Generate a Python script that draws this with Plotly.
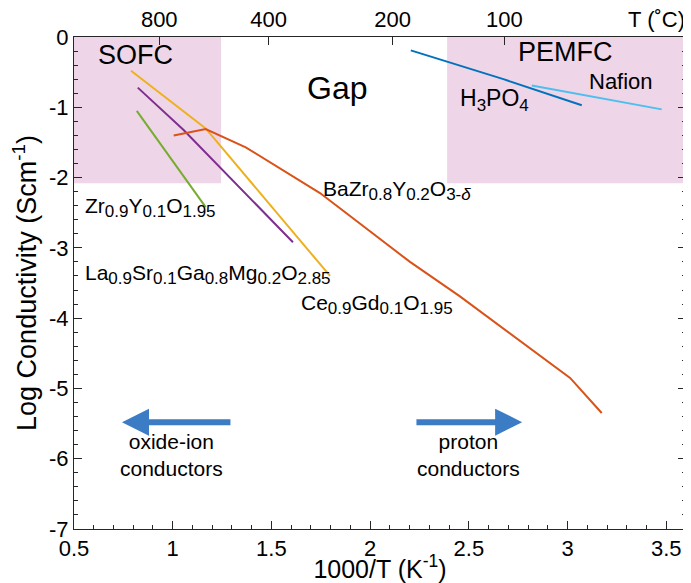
import plotly.graph_objects as go

# ---- data ----
zr_x = [0.818, 1.167]
zr_y = [-1.05, -2.42]
la_x = [0.823, 1.054, 1.609]
la_y = [-0.72, -1.32, -2.92]
ce_x = [0.789, 1.167, 1.797]
ce_y = [-0.48, -1.30, -3.40]
bz_x = [1.005, 1.167, 1.37, 1.746, 1.89, 2.202, 2.455, 3.013, 3.173]
bz_y = [-1.40, -1.31, -1.57, -2.22, -2.53, -3.20, -3.69, -4.85, -5.35]
h3_x = [2.206, 2.675, 3.072]
h3_y = [-0.19, -0.60, -0.97]
na_x = [2.819, 3.477]
na_y = [-0.69, -1.03]

top_T = [800, 400, 200, 100]
top_pos = [1000.0 / (t + 273.15) for t in top_T]
xt = [0.5, 1, 1.5, 2, 2.5, 3, 3.5]
yt = [0, -1, -2, -3, -4, -5, -6, -7]

colors = dict(zr="#77AC30", la="#7E2F8E", ce="#EDB120", bz="#D95319",
              h3="#0072BD", na="#4DBEEE")
FONT = "Liberation Sans, Arial, Helvetica, sans-serif"
pink = "rgb(238,214,232)"
arrow_col = "#3B7CC4"
SUB = 17

def sub(s):
    return "<sub><span style='font-size:%dpx'>%s</span></sub>" % (SUB, s)

fig = go.Figure()
for key, xs, ys in [("zr", zr_x, zr_y), ("la", la_x, la_y), ("ce", ce_x, ce_y),
                    ("bz", bz_x, bz_y), ("h3", h3_x, h3_y), ("na", na_x, na_y)]:
    fig.add_trace(go.Scatter(x=xs, y=ys, mode="lines",
                             line=dict(color=colors[key], width=2),
                             showlegend=False, hoverinfo="skip"))

fig.add_trace(go.Scatter(x=top_pos, y=[None]*4, xaxis="x2", showlegend=False,
                         hoverinfo="skip"))

fig.add_shape(type="rect", x0=0.5, x1=1.245, y0=-2.08, y1=0, xref="x", yref="y",
              fillcolor=pink, line=dict(width=0), layer="below")
fig.add_shape(type="rect", x0=2.39, x1=3.6, y0=-2.08, y1=0, xref="x", yref="y",
              fillcolor=pink, line=dict(width=0), layer="below")

def txt(x, y, s, size=21, xanchor="left", yanchor="middle"):
    fig.add_annotation(x=x, y=y, text=s, showarrow=False, xref="x", yref="y",
                       xanchor=xanchor, yanchor=yanchor,
                       font=dict(family=FONT, size=size, color="black"))

txt(0.81, -0.26, "SOFC", 27, "center")
txt(1.83, -0.73, "Gap", 32, "center")
txt(2.99, -0.22, "PEMFC", 27, "center")
txt(3.27, -0.64, "Nafion", 22, "center")
txt(2.63, -0.90, "H" + sub("3") + "PO" + sub("4"), 23, "center")
txt(1.752, -2.18, "BaZr" + sub("0.8") + "Y" + sub("0.2") + "O" + sub("3-<i>δ</i>"), 21, "left")
txt(0.546, -2.43, "Zr" + sub("0.9") + "Y" + sub("0.1") + "O" + sub("1.95"), 21, "left")
txt(0.546, -3.38, "La" + sub("0.9") + "Sr" + sub("0.1") + "Ga" + sub("0.8") + "Mg" + sub("0.2") + "O" + sub("2.85"), 21, "left")
txt(1.64, -3.80, "Ce" + sub("0.9") + "Gd" + sub("0.1") + "O" + sub("1.95"), 21, "left")
txt(0.996, -5.95, "oxide-ion<br>conductors", 21, "center")
txt(2.50, -5.95, "proton<br>conductors", 21, "center")

# arrows
fig.add_annotation(x=0.743, y=-5.48, ax=1.30, ay=-5.48, xref="x", yref="y",
                   axref="x", ayref="y", showarrow=True, arrowhead=2,
                   arrowsize=0.9, arrowwidth=6, arrowcolor=arrow_col, text="")
fig.add_annotation(x=2.77, y=-5.48, ax=2.227, ay=-5.48, xref="x", yref="y",
                   axref="x", ayref="y", showarrow=True, arrowhead=2,
                   arrowsize=0.9, arrowwidth=6, arrowcolor=arrow_col, text="")

fig.add_annotation(x=1.0, y=1.0, xref="paper", yref="paper", text="T (˚C)",
                   showarrow=False, xanchor="right", yanchor="bottom", yshift=3,
                   xshift=1, font=dict(family=FONT, size=22, color="black"))

axis_common = dict(showline=True, linecolor="#262626", linewidth=1,
                   showgrid=False, zeroline=False, ticks="inside",
                   tickcolor="#262626", tickfont=dict(family=FONT, size=22, color="black"),
                   automargin=False)

fig.update_layout(
    width=683, height=575,
    margin=dict(l=66, r=5, t=29, b=54),
    plot_bgcolor="white", paper_bgcolor="white",
    xaxis=dict(range=[0.5, 3.6], tickvals=xt, ticktext=[str(v) for v in xt],
               ticklen=8, minor=dict(dtick=0.1, ticks="inside", ticklen=4, tickcolor="#262626"),
               title=dict(text="1000/T (K<sup>-1</sup>)", font=dict(family=FONT, size=25), standoff=7),
               mirror=False, **axis_common),
    xaxis2=dict(range=[0.5, 3.6], overlaying="x", side="top", tickvals=top_pos,
                ticktext=[str(t) for t in top_T], ticklen=8, mirror=False, **axis_common),
    yaxis=dict(range=[-7, 0], tickvals=yt, ticktext=[str(v) for v in yt], ticklen=8,
               minor=dict(dtick=0.2, ticks="inside", ticklen=4, tickcolor="#262626"),
               title=dict(text="Log Conductivity (Scm<sup>-1</sup>)", font=dict(family=FONT, size=27), standoff=6),
               mirror="ticks", **axis_common),
    font=dict(family=FONT, color="black"),
)

fig.write_html("out.html")
